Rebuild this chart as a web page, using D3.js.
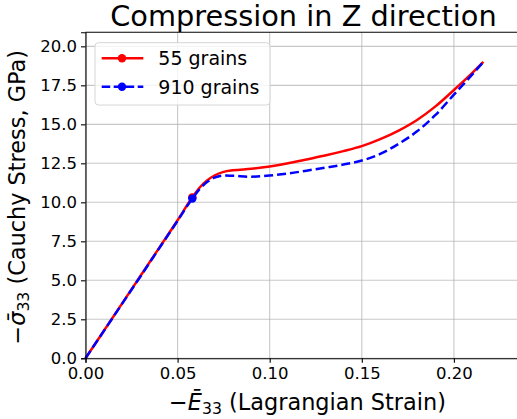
<!DOCTYPE html>
<html>
<head>
<meta charset="utf-8">
<script src="https://cdn.jsdelivr.net/npm/d3@7"></script>
<style>
  body { margin: 0; background: #fff; }
  svg { font-family: "DejaVu Sans", sans-serif; display: block; }
</style>
</head>
<body>
<svg width="517" height="419"></svg>
<script>
const width = 517, height = 419;
const margin = { left: 85.5, top: 32.3, right: -4.5, bottom: 60.7 };

// values
const xTicks = [0, 0.05, 0.10, 0.15, 0.20];
const yTicks = [0, 2.5, 5, 7.5, 10, 12.5, 15, 17.5, 20];

const strain55 = [0, 0.01, 0.02, 0.03, 0.04, 0.05, 0.058, 0.062, 0.066, 0.07, 0.075, 0.08, 0.09, 0.10, 0.11, 0.12, 0.13, 0.14, 0.15, 0.16, 0.17, 0.18, 0.19, 0.20, 0.21, 0.216];
const stress55 = [0, 1.77, 3.54, 5.31, 7.08, 8.85, 10.32, 10.95, 11.4, 11.72, 11.95, 12.05, 12.15, 12.3, 12.5, 12.75, 13.0, 13.28, 13.6, 14.05, 14.6, 15.28, 16.15, 17.2, 18.3, 19.0];

const strain910 = [0, 0.01, 0.02, 0.03, 0.04, 0.05, 0.058, 0.062, 0.066, 0.07, 0.075, 0.08, 0.09, 0.10, 0.11, 0.12, 0.13, 0.14, 0.15, 0.16, 0.17, 0.18, 0.19, 0.20, 0.21, 0.216];
const stress910 = [0, 1.76, 3.52, 5.28, 7.05, 8.82, 10.24, 10.85, 11.3, 11.58, 11.72, 11.7, 11.64, 11.72, 11.85, 12.03, 12.22, 12.42, 12.68, 13.1, 13.75, 14.55, 15.6, 16.9, 18.2, 19.0];

// marker index (yield point)
const markIdx = 6;

const series = [
  { name: "55 grains", x: strain55, y: stress55, color: "#ff0000", dash: null },
  { name: "910 grains", x: strain910, y: stress910, color: "#0000ff", dash: "9,4" }
];

const svg = d3.select("svg");

const x = d3.scaleLinear().domain([0, 0.2367]).range([margin.left, width - margin.right]);
const y = d3.scaleLinear().domain([0, 20.9]).range([height - margin.bottom, margin.top]);

// grid
svg.append("g")
  .selectAll("line")
  .data(xTicks)
  .join("line")
  .attr("x1", d => x(d)).attr("x2", d => x(d))
  .attr("y1", y.range()[0]).attr("y2", y.range()[1])
  .attr("stroke", "#b0b0b0").attr("stroke-opacity", 0.7).attr("stroke-width", 1.1);

svg.append("g")
  .selectAll("line")
  .data(yTicks)
  .join("line")
  .attr("y1", d => y(d)).attr("y2", d => y(d))
  .attr("x1", x.range()[0]).attr("x2", x.range()[1])
  .attr("stroke", "#b0b0b0").attr("stroke-opacity", 0.7).attr("stroke-width", 1.1);

// curves
const line = d3.line().curve(d3.curveMonotoneX);

series.forEach(s => {
  const pts = s.x.map((v, i) => [x(v), y(s.y[i])]);
  svg.append("path")
    .attr("d", line(pts))
    .attr("fill", "none")
    .attr("stroke", s.color)
    .attr("stroke-width", 2.5)
    .attr("stroke-dasharray", s.dash);
  svg.append("circle")
    .attr("cx", x(s.x[markIdx]))
    .attr("cy", y(s.y[markIdx]))
    .attr("r", 4.2)
    .attr("fill", s.color);
});

// axes
const xAxis = svg.append("g")
  .attr("transform", `translate(0,${y.range()[0]})`)
  .call(d3.axisBottom(x).tickValues(xTicks).tickFormat(d3.format(".2f")).tickSizeOuter(0).tickSize(4.5).tickPadding(4));
const yAxis = svg.append("g")
  .attr("transform", `translate(${x.range()[0]},0)`)
  .call(d3.axisLeft(y).tickValues(yTicks).tickFormat(d3.format(".1f")).tickSizeOuter(0).tickSize(4.5).tickPadding(4));

[xAxis, yAxis].forEach(a => {
  a.select(".domain").attr("stroke", "#000").attr("stroke-width", 1.1);
  a.selectAll(".tick line").attr("stroke", "#000").attr("stroke-width", 1.1);
  a.selectAll(".tick text").attr("font-size", 16.5).attr("fill", "#000")
    .attr("font-family", "DejaVu Sans");
});

// top spine
svg.append("line")
  .attr("x1", x.range()[0]).attr("x2", x.range()[1])
  .attr("y1", y.range()[1]).attr("y2", y.range()[1])
  .attr("stroke", "#000").attr("stroke-width", 1.1);

// title
svg.append("text")
  .attr("x", (x.range()[0] + x.range()[1]) / 2)
  .attr("y", 26)
  .attr("text-anchor", "middle")
  .attr("font-size", 28.8)
  .text("Compression in Z direction");

// x label
const xl = svg.append("text")
  .attr("x", 307.5)
  .attr("y", 409.5)
  .attr("text-anchor", "middle")
  .attr("font-size", 22.4);
xl.append("tspan").text("\u2212");
xl.append("tspan").attr("font-style", "italic").text("\u0112");
xl.append("tspan").attr("font-size", 15.7).attr("dy", 4).text("33");
xl.append("tspan").attr("dy", -4).text(" (Lagrangian Strain)");

// y label
const yl = svg.append("text")
  .attr("transform", `translate(25,${(y.range()[0] + y.range()[1]) / 2 + 2}) rotate(-90)`)
  .attr("text-anchor", "middle")
  .attr("font-size", 22.4);
yl.append("tspan").text("\u2212");
yl.append("tspan").attr("font-style", "italic").text("\u03c3\u0304");
yl.append("tspan").attr("font-size", 15.7).attr("dy", 4).text("33");
yl.append("tspan").attr("dy", -4).text(" (Cauchy Stress, GPa)");

// legend
const lg = svg.append("g");
lg.append("rect")
  .attr("x", 95).attr("y", 42.7).attr("width", 175).attr("height", 62.3)
  .attr("rx", 3.5)
  .attr("fill", "#fff").attr("fill-opacity", 0.8)
  .attr("stroke", "#d6d6d6").attr("stroke-width", 1);

series.forEach((s, i) => {
  const ly = 58.3 + i * 28.4;
  lg.append("line")
    .attr("x1", 101.7).attr("x2", 143.3)
    .attr("y1", ly).attr("y2", ly)
    .attr("stroke", s.color).attr("stroke-width", 2.5)
    .attr("stroke-dasharray", s.dash ? "8.5,3.5" : null);
  lg.append("circle")
    .attr("cx", 122).attr("cy", ly).attr("r", 4.2).attr("fill", s.color);
  lg.append("text")
    .attr("x", 158.3).attr("y", ly + 6.8)
    .attr("font-size", 19)
    .text(s.name);
});
</script>
</body>
</html>
